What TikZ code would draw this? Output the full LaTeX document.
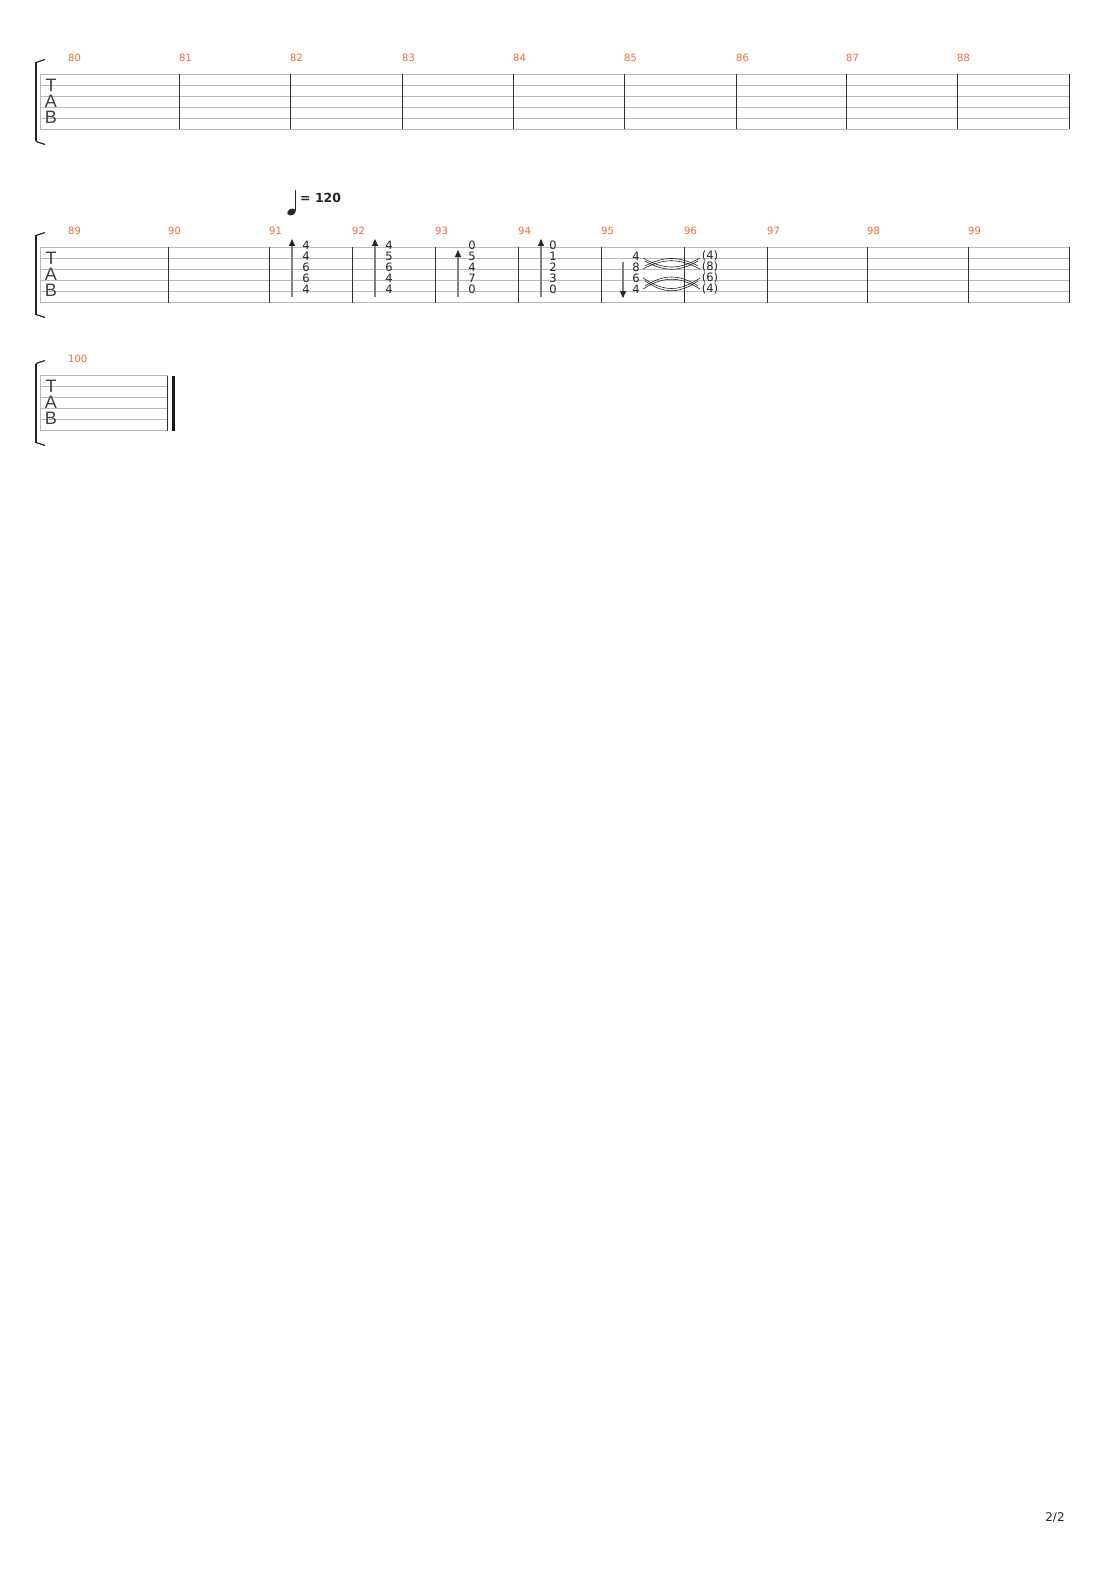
\documentclass[tikz,border=0pt]{standalone}
\usepackage{fontspec}
\setmainfont{DejaVu Sans}
\newfontfamily\tabfont{Liberation Sans}
\usetikzlibrary{arrows.meta}
\definecolor{barnum}{HTML}{F26B3A}
\definecolor{staffc}{HTML}{BBBBBB}
\begin{document}
\begin{tikzpicture}[x=1pt,y=-1pt,
  sline/.style={staffc,line width=0.8pt},
  bline/.style={black!80,line width=0.9pt},
  bnum/.style={barnum,font=\fontsize{10}{10}\selectfont,inner sep=0,anchor=west},
  fret/.style={font=\fontsize{11.5}{11.5}\selectfont,inner sep=0,black!85},
  tabl/.style={font=\tabfont\fontsize{18}{18}\selectfont,inner sep=0,black!75},
  strum/.style={gray,line width=1.3pt,-{Triangle[length=7pt,width=6pt,black!85]}},
  tie/.style={black!85,line width=0.6pt}]
\useasboundingbox[fill=white] (0,0) rectangle (1110,1570);
\newcommand{\mystaff}[3]{% top y, left x, right x
  \foreach \i in {0,...,5}{\draw[sline] (#2,#1+11*\i) -- (#3,#1+11*\i);}
  \draw[staffc,line width=1pt] (40,#1) -- (40,#1+55);
  \draw[black!85,line width=2pt] (36,#1-12) -- (36,#1+67);
  \draw[black!85,line width=1.2pt] (36,#1-12) -- (45,#1-15);
  \draw[black!85,line width=1.2pt] (36,#1+67) -- (45,#1+70);
  \node[tabl] at (51,#1+10.5) {T};
  \node[tabl] at (51,#1+26.8) {A};
  \node[tabl] at (51,#1+43) {B};
}
% system 1
\mystaff{74.5}{40}{1069}
\node[bnum] (n80) at (68,58) {80};
\foreach \b/\n in {179/81,290/82,402/83,513/84,624/85,736/86,846/87,957/88}{\node[bnum] (n\n) at (\b,58) {\n};}
\foreach \b in {179,290,402,513,624,736,846,957,1069}{\draw[bline] (\b,74.5) -- (\b,129.5);}
% system 2
\mystaff{247.5}{40}{1069}
\node[bnum] (n89) at (68,231) {89};
\foreach \b/\n in {168/90,269/91,352/92,435/93,518/94,601/95,684/96,767/97,867/98,968/99}{\node[bnum] (n\n) at (\b,231) {\n};}
\foreach \b in {168,269,352,435,518,601,684,767,867,968,1069}{\draw[bline] (\b,247.5) -- (\b,302.5);}
% tempo
\fill[black!85,rotate around={25:(291.5,212)}] (291.5,212) ellipse (4.5pt and 3.2pt);
\draw[black!85,line width=0.9pt] (295.8,211) -- (295.8,190);
\node[font=\bfseries\fontsize{12.5}{12.5}\selectfont,anchor=west,inner sep=0,black!85] (tempo) at (300,197.5) {= 120};
% chords
\newcommand{\chord}[3]{\foreach \f [count=\k from 0] in {#3}{\node[fret] at (#1,#2+11*\k) {\f};}}
\chord{306}{245}{4,4,6,6,4}
\chord{389}{245}{4,5,6,4,4}
\chord{472}{245}{0,5,4,7,0}
\chord{553}{245}{0,1,2,3,0}
\chord{636}{256}{4,8,6,4}
\chord{710}{256}{(4),(8),(6),(4)}
\coordinate (a1s) at (292,297); \coordinate (a1e) at (292,239);
\coordinate (a2s) at (375,297); \coordinate (a2e) at (375,239);
\coordinate (a3s) at (458,297); \coordinate (a3e) at (458,250);
\coordinate (a4s) at (541,297); \coordinate (a4e) at (541,239);
\coordinate (a5s) at (623,262); \coordinate (a5e) at (623,298);
\draw[strum] (a1s) -- (a1e);
\draw[strum] (a2s) -- (a2e);
\draw[strum] (a3s) -- (a3e);
\draw[strum] (a4s) -- (a4e);
\draw[strum] (a5s) -- (a5e);
% ties
\draw[tie] (643,258) .. controls (664,270) and (679,270) .. (700,258);
\draw[tie] (643,269) .. controls (664,258) and (679,258) .. (700,269);
\draw[tie] (643,278) .. controls (664,292) and (679,292) .. (700,278);
\draw[tie] (643,289) .. controls (664,276) and (679,276) .. (700,289);
\draw[tie] (645,261) .. controls (664,272) and (679,272) .. (698,261);
\draw[tie] (645,266) .. controls (664,256) and (679,256) .. (698,266);
\draw[tie] (645,281) .. controls (664,294) and (679,294) .. (698,281);
\draw[tie] (645,286) .. controls (664,274) and (679,274) .. (698,286);
% system 3
\mystaff{375.5}{40}{168}
\node[bnum] (n100) at (68,359) {100};
\draw[bline,line width=0.7pt] (167,375.5) -- (167,430.5);
\draw[black!90,line width=3pt] (173,375.5) -- (173,430.5);
\node[font=\fontsize{12}{12}\selectfont,inner sep=0,black!85] (page) at (1055,1518) {2/2};
\end{tikzpicture}
\end{document}
